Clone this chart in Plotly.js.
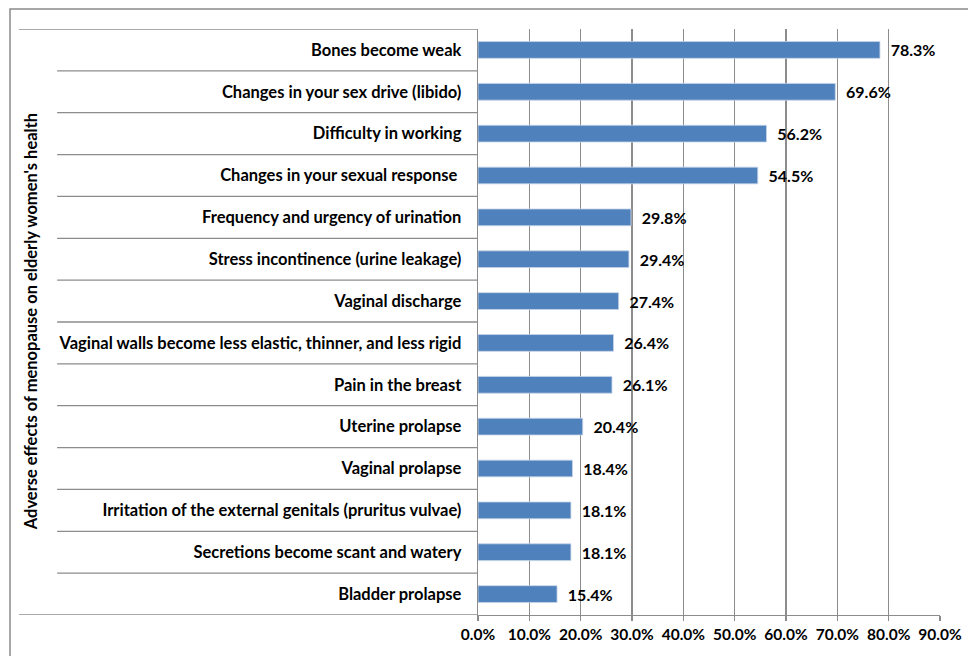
<!DOCTYPE html>
<html>
<head>
<meta charset="utf-8">
<script src="https://cdn.plot.ly/plotly-3.0.1.min.js"></script>
<style>html,body{margin:0;padding:0;background:#fff;}#chart{width:968px;height:656px;}</style>
</head>
<body>
<div id="chart"></div>
<script>
const categories = [
  "Bones become weak",
  "Changes in your sex drive (libido)",
  "Difficulty in working",
  "Changes in your sexual response ",
  "Frequency and urgency of urination",
  "Stress incontinence (urine leakage)",
  "Vaginal discharge",
  "Vaginal walls become less elastic, thinner, and less rigid",
  "Pain in the breast",
  "Uterine prolapse",
  "Vaginal prolapse",
  "Irritation of the external genitals (pruritus vulvae)",
  "Secretions become scant and watery",
  "Bladder prolapse"
];
const values = [78.3, 69.6, 56.2, 54.5, 29.8, 29.4, 27.4, 26.4, 26.1, 20.4, 18.4, 18.1, 18.1, 15.4];
const tickVals = [0, 10, 20, 30, 40, 50, 60, 70, 80, 90];
const tickText = ["0.0%", "10.0%", "20.0%", "30.0%", "40.0%", "50.0%", "60.0%", "70.0%", "80.0%", "90.0%"];
const axisTitle = "Adverse effects of menopause on elderly women's health";

const fontFam = "Lato, 'Open Sans', sans-serif";
const gridCol = "#8c8c8c";

const shapes = [];
// category divider lines in the label area
for (let i = 0; i <= categories.length; i++) {
  const edge = (i === 0 || i === categories.length);
  shapes.push({
    type: "line", xref: "paper", yref: "y",
    x0: edge ? -0.9935 : -0.911, x1: 0,
    y0: i - 0.5, y1: i - 0.5,
    line: {color: gridCol, width: 1.3}
  });
}
// outer chart frame (cropped)
shapes.push({
  type: "rect", xref: "paper", yref: "paper",
  x0: -1.013, x1: 1.2, y0: -0.2, y1: 1.034,
  line: {color: "#8a8a8a", width: 1.5}, fillcolor: "rgba(0,0,0,0)", layer: "below"
});

const trace = {
  type: "bar", orientation: "h",
  x: values, y: categories,
  marker: {color: "#4F81BD", line: {color: "#c6d4e8", width: 0.8}},
  text: values.map(v => "  " + v.toFixed(1) + "%"),
  textposition: "outside",
  constraintext: "none",
  cliponaxis: false,
  textfont: {family: fontFam, size: 16, color: "#000", weight: 700},
  hoverinfo: "none"
};

const layout = {
  width: 968, height: 656,
  margin: {l: 478, r: 28, t: 29, b: 41},
  paper_bgcolor: "#fff", plot_bgcolor: "#fff",
  showlegend: false,
  bargap: 0.6,
  xaxis: {
    range: [0, 90], tickvals: tickVals, ticktext: tickText,
    showgrid: true, gridcolor: gridCol, gridwidth: 1.3,
    zeroline: false, showline: true, linecolor: gridCol, linewidth: 1.3,
    ticks: "outside", ticklen: 5, tickcolor: gridCol, tickwidth: 1.3,
    tickfont: {family: fontFam, size: 15.5, color: "#000", weight: 700},
    fixedrange: true
  },
  yaxis: {
    type: "category", autorange: false, range: [13.5, -0.5],
    showgrid: false, zeroline: false, showline: true, linecolor: gridCol, linewidth: 1.3,
    ticks: "", ticklabelstandoff: 12,
    tickfont: {family: fontFam, size: 16.5, color: "#000", weight: 700},
    fixedrange: true
  },
  shapes: shapes,
  annotations: [{
    text: axisTitle, xref: "paper", yref: "paper",
    x: -0.967, y: 0.5, xanchor: "center", yanchor: "middle",
    textangle: -90, showarrow: false,
    font: {family: fontFam, size: 16.5, color: "#000", weight: 700}
  }]
};

Plotly.newPlot("chart", [trace], layout, {displayModeBar: false, staticPlot: true});
</script>
</body>
</html>
